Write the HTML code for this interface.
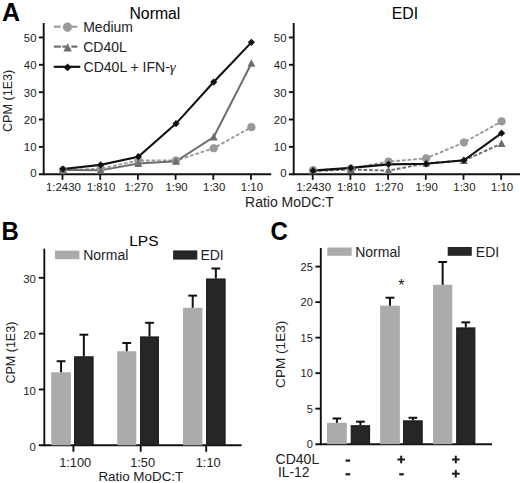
<!DOCTYPE html>
<html><head><meta charset="utf-8"><style>
html,body{margin:0;padding:0;background:#fff;}
svg{display:block;font-family:"Liberation Sans", sans-serif;}
</style></head><body>
<svg width="520" height="483" viewBox="0 0 520 483">
<rect width="520" height="483" fill="#fff"/>
<line x1="43.70" y1="23.00" x2="43.70" y2="175.15" stroke="#111" stroke-width="1.9" />
<line x1="38.90" y1="174.20" x2="271.20" y2="174.20" stroke="#111" stroke-width="1.9" />
<line x1="38.90" y1="146.85" x2="43.70" y2="146.85" stroke="#111" stroke-width="1.9" />
<line x1="38.90" y1="119.50" x2="43.70" y2="119.50" stroke="#111" stroke-width="1.9" />
<line x1="38.90" y1="92.15" x2="43.70" y2="92.15" stroke="#111" stroke-width="1.9" />
<line x1="38.90" y1="64.80" x2="43.70" y2="64.80" stroke="#111" stroke-width="1.9" />
<line x1="38.90" y1="37.45" x2="43.70" y2="37.45" stroke="#111" stroke-width="1.9" />
<text x="36.50" y="176.80" font-size="11.4" text-anchor="end" font-weight="normal" fill="#222" >0</text>
<text x="36.50" y="151.45" font-size="11.4" text-anchor="end" font-weight="normal" fill="#222" >10</text>
<text x="36.50" y="124.10" font-size="11.4" text-anchor="end" font-weight="normal" fill="#222" >20</text>
<text x="36.50" y="96.75" font-size="11.4" text-anchor="end" font-weight="normal" fill="#222" >30</text>
<text x="36.50" y="69.40" font-size="11.4" text-anchor="end" font-weight="normal" fill="#222" >40</text>
<text x="36.50" y="42.05" font-size="11.4" text-anchor="end" font-weight="normal" fill="#222" >50</text>
<line x1="62.50" y1="174.20" x2="62.50" y2="179.80" stroke="#111" stroke-width="1.8" />
<text x="63.40" y="190.50" font-size="11.4" text-anchor="middle" font-weight="normal" fill="#222" >1:2430</text>
<line x1="100.20" y1="174.20" x2="100.20" y2="179.80" stroke="#111" stroke-width="1.8" />
<text x="101.10" y="190.50" font-size="11.4" text-anchor="middle" font-weight="normal" fill="#222" >1:810</text>
<line x1="137.90" y1="174.20" x2="137.90" y2="179.80" stroke="#111" stroke-width="1.8" />
<text x="138.80" y="190.50" font-size="11.4" text-anchor="middle" font-weight="normal" fill="#222" >1:270</text>
<line x1="175.60" y1="174.20" x2="175.60" y2="179.80" stroke="#111" stroke-width="1.8" />
<text x="176.50" y="190.50" font-size="11.4" text-anchor="middle" font-weight="normal" fill="#222" >1:90</text>
<line x1="213.30" y1="174.20" x2="213.30" y2="179.80" stroke="#111" stroke-width="1.8" />
<text x="214.20" y="190.50" font-size="11.4" text-anchor="middle" font-weight="normal" fill="#222" >1:30</text>
<line x1="251.00" y1="174.20" x2="251.00" y2="179.80" stroke="#111" stroke-width="1.8" />
<text x="251.90" y="190.50" font-size="11.4" text-anchor="middle" font-weight="normal" fill="#222" >1:10</text>
<text x="154.90" y="18.60" font-size="15.8" text-anchor="middle" font-weight="normal" fill="#000" >Normal</text>
<polyline points="62.90,170.10 100.60,168.73 138.30,160.52 176.00,160.52 213.70,148.22 251.40,127.16" fill="none" stroke="#999999" stroke-width="1.9" stroke-dasharray="3.7,1.9"/>
<polyline points="62.90,170.10 100.60,170.37 138.30,163.53 176.00,161.35 213.70,137.00 251.40,63.43" fill="none" stroke="#6e6e6e" stroke-width="2" />
<polyline points="62.90,169.00 100.60,164.90 138.30,156.70 176.00,123.60 213.70,82.03 251.40,42.37" fill="none" stroke="#111" stroke-width="2.1"/>
<circle cx="62.90" cy="170.10" r="3.8" fill="#999999" stroke="#8e8e8e" stroke-width="0.6"/>
<circle cx="100.60" cy="168.73" r="3.8" fill="#999999" stroke="#8e8e8e" stroke-width="0.6"/>
<circle cx="138.30" cy="160.52" r="3.8" fill="#999999" stroke="#8e8e8e" stroke-width="0.6"/>
<circle cx="176.00" cy="160.52" r="3.8" fill="#999999" stroke="#8e8e8e" stroke-width="0.6"/>
<circle cx="213.70" cy="148.22" r="3.8" fill="#999999" stroke="#8e8e8e" stroke-width="0.6"/>
<circle cx="251.40" cy="127.16" r="3.8" fill="#999999" stroke="#8e8e8e" stroke-width="0.6"/>
<polygon points="62.90,165.92 66.90,173.52 58.90,173.52" fill="#6e6e6e"/>
<polygon points="100.60,166.19 104.60,173.79 96.60,173.79" fill="#6e6e6e"/>
<polygon points="138.30,159.35 142.30,166.95 134.30,166.95" fill="#6e6e6e"/>
<polygon points="176.00,157.17 180.00,164.77 172.00,164.77" fill="#6e6e6e"/>
<polygon points="213.70,132.82 217.70,140.42 209.70,140.42" fill="#6e6e6e"/>
<polygon points="251.40,59.25 255.40,66.85 247.40,66.85" fill="#6e6e6e"/>
<polygon points="62.90,165.40 66.50,169.00 62.90,172.60 59.30,169.00" fill="#111"/>
<polygon points="100.60,161.30 104.20,164.90 100.60,168.50 97.00,164.90" fill="#111"/>
<polygon points="138.30,153.10 141.90,156.70 138.30,160.30 134.70,156.70" fill="#111"/>
<polygon points="176.00,120.00 179.60,123.60 176.00,127.20 172.40,123.60" fill="#111"/>
<polygon points="213.70,78.43 217.30,82.03 213.70,85.63 210.10,82.03" fill="#111"/>
<polygon points="251.40,38.77 255.00,42.37 251.40,45.97 247.80,42.37" fill="#111"/>
<line x1="293.70" y1="23.00" x2="293.70" y2="175.15" stroke="#111" stroke-width="1.9" />
<line x1="288.90" y1="174.20" x2="521.20" y2="174.20" stroke="#111" stroke-width="1.9" />
<line x1="288.90" y1="146.85" x2="293.70" y2="146.85" stroke="#111" stroke-width="1.9" />
<line x1="288.90" y1="119.50" x2="293.70" y2="119.50" stroke="#111" stroke-width="1.9" />
<line x1="288.90" y1="92.15" x2="293.70" y2="92.15" stroke="#111" stroke-width="1.9" />
<line x1="288.90" y1="64.80" x2="293.70" y2="64.80" stroke="#111" stroke-width="1.9" />
<line x1="288.90" y1="37.45" x2="293.70" y2="37.45" stroke="#111" stroke-width="1.9" />
<text x="286.50" y="176.80" font-size="11.4" text-anchor="end" font-weight="normal" fill="#222" >0</text>
<text x="286.50" y="151.45" font-size="11.4" text-anchor="end" font-weight="normal" fill="#222" >10</text>
<text x="286.50" y="124.10" font-size="11.4" text-anchor="end" font-weight="normal" fill="#222" >20</text>
<text x="286.50" y="96.75" font-size="11.4" text-anchor="end" font-weight="normal" fill="#222" >30</text>
<text x="286.50" y="69.40" font-size="11.4" text-anchor="end" font-weight="normal" fill="#222" >40</text>
<text x="286.50" y="42.05" font-size="11.4" text-anchor="end" font-weight="normal" fill="#222" >50</text>
<line x1="312.70" y1="174.20" x2="312.70" y2="179.80" stroke="#111" stroke-width="1.8" />
<text x="313.60" y="190.50" font-size="11.4" text-anchor="middle" font-weight="normal" fill="#222" >1:2430</text>
<line x1="350.40" y1="174.20" x2="350.40" y2="179.80" stroke="#111" stroke-width="1.8" />
<text x="351.30" y="190.50" font-size="11.4" text-anchor="middle" font-weight="normal" fill="#222" >1:810</text>
<line x1="388.10" y1="174.20" x2="388.10" y2="179.80" stroke="#111" stroke-width="1.8" />
<text x="389.00" y="190.50" font-size="11.4" text-anchor="middle" font-weight="normal" fill="#222" >1:270</text>
<line x1="425.80" y1="174.20" x2="425.80" y2="179.80" stroke="#111" stroke-width="1.8" />
<text x="426.70" y="190.50" font-size="11.4" text-anchor="middle" font-weight="normal" fill="#222" >1:90</text>
<line x1="463.50" y1="174.20" x2="463.50" y2="179.80" stroke="#111" stroke-width="1.8" />
<text x="464.40" y="190.50" font-size="11.4" text-anchor="middle" font-weight="normal" fill="#222" >1:30</text>
<line x1="501.20" y1="174.20" x2="501.20" y2="179.80" stroke="#111" stroke-width="1.8" />
<text x="502.10" y="190.50" font-size="11.4" text-anchor="middle" font-weight="normal" fill="#222" >1:10</text>
<text x="404.90" y="18.60" font-size="15.8" text-anchor="middle" font-weight="normal" fill="#000" >EDI</text>
<polyline points="313.10,170.10 350.80,168.46 388.50,161.62 426.20,158.34 463.90,142.47 501.60,121.41" fill="none" stroke="#999999" stroke-width="1.9" stroke-dasharray="3.7,1.9"/>
<polyline points="313.10,170.92 350.80,169.55 388.50,170.64 426.20,163.26 463.90,160.52 501.60,143.57" fill="none" stroke="#6e6e6e" stroke-width="2" stroke-dasharray="3.7,1.9"/>
<polyline points="313.10,170.64 350.80,167.91 388.50,164.35 426.20,163.81 463.90,160.25 501.60,133.17" fill="none" stroke="#111" stroke-width="2.1"/>
<circle cx="313.10" cy="170.10" r="3.8" fill="#999999" stroke="#8e8e8e" stroke-width="0.6"/>
<circle cx="350.80" cy="168.46" r="3.8" fill="#999999" stroke="#8e8e8e" stroke-width="0.6"/>
<circle cx="388.50" cy="161.62" r="3.8" fill="#999999" stroke="#8e8e8e" stroke-width="0.6"/>
<circle cx="426.20" cy="158.34" r="3.8" fill="#999999" stroke="#8e8e8e" stroke-width="0.6"/>
<circle cx="463.90" cy="142.47" r="3.8" fill="#999999" stroke="#8e8e8e" stroke-width="0.6"/>
<circle cx="501.60" cy="121.41" r="3.8" fill="#999999" stroke="#8e8e8e" stroke-width="0.6"/>
<polygon points="313.10,166.74 317.10,174.34 309.10,174.34" fill="#6e6e6e"/>
<polygon points="350.80,165.37 354.80,172.97 346.80,172.97" fill="#6e6e6e"/>
<polygon points="388.50,166.46 392.50,174.06 384.50,174.06" fill="#6e6e6e"/>
<polygon points="426.20,159.08 430.20,166.68 422.20,166.68" fill="#6e6e6e"/>
<polygon points="463.90,156.34 467.90,163.94 459.90,163.94" fill="#6e6e6e"/>
<polygon points="501.60,139.39 505.60,146.99 497.60,146.99" fill="#6e6e6e"/>
<polygon points="313.10,167.04 316.70,170.64 313.10,174.24 309.50,170.64" fill="#111"/>
<polygon points="350.80,164.31 354.40,167.91 350.80,171.51 347.20,167.91" fill="#111"/>
<polygon points="388.50,160.75 392.10,164.35 388.50,167.95 384.90,164.35" fill="#111"/>
<polygon points="426.20,160.21 429.80,163.81 426.20,167.41 422.60,163.81" fill="#111"/>
<polygon points="463.90,156.65 467.50,160.25 463.90,163.85 460.30,160.25" fill="#111"/>
<polygon points="501.60,129.57 505.20,133.17 501.60,136.77 498.00,133.17" fill="#111"/>
<text x="2.00" y="20.90" font-size="25" text-anchor="start" font-weight="bold" fill="#000" >A</text>
<text x="289.40" y="206.90" font-size="14" text-anchor="middle" font-weight="normal" fill="#222" >Ratio MoDC:T</text>
<text transform="translate(12.2,100.9) rotate(-90)" font-size="12.6" text-anchor="middle" fill="#222">CPM (1E3)</text>
<line x1="53.90" y1="26.70" x2="60.60" y2="26.70" stroke="#999999" stroke-width="2.1" />
<line x1="72.00" y1="26.70" x2="77.30" y2="26.70" stroke="#999999" stroke-width="2.1" />
<circle cx="67.50" cy="27.10" r="4.3" fill="#999999" stroke="#8e8e8e" stroke-width="0.6"/>
<line x1="53.90" y1="46.60" x2="60.90" y2="46.60" stroke="#6e6e6e" stroke-width="2.2" />
<line x1="62.40" y1="46.60" x2="66.00" y2="46.60" stroke="#6e6e6e" stroke-width="2.2" />
<line x1="71.40" y1="46.60" x2="77.30" y2="46.60" stroke="#6e6e6e" stroke-width="2.2" />
<polygon points="67.65,43.2 71.9,51.4 63.4,51.4" fill="#6e6e6e"/>
<line x1="53.70" y1="66.80" x2="80.30" y2="66.80" stroke="#111" stroke-width="2.2" />
<polygon points="67.60,63.50 71.50,67.40 67.60,71.30 63.70,67.40" fill="#111"/>
<text x="83.20" y="32.20" font-size="14" text-anchor="start" font-weight="normal" fill="#222" >Medium</text>
<text x="83.20" y="52.00" font-size="14" text-anchor="start" font-weight="normal" fill="#222" >CD40L</text>
<text x="83.60" y="72.10" font-size="14" text-anchor="start" font-weight="normal" fill="#222" >CD40L + IFN-<tspan font-family="Liberation Serif" font-style="italic" font-size="15">&#947;</tspan></text>
<line x1="44.30" y1="248.70" x2="44.30" y2="446.25" stroke="#111" stroke-width="1.9" />
<line x1="38.80" y1="445.30" x2="241.60" y2="445.30" stroke="#111" stroke-width="1.9" />
<line x1="38.80" y1="389.47" x2="44.30" y2="389.47" stroke="#111" stroke-width="1.9" />
<line x1="38.80" y1="333.64" x2="44.30" y2="333.64" stroke="#111" stroke-width="1.9" />
<line x1="38.80" y1="277.81" x2="44.30" y2="277.81" stroke="#111" stroke-width="1.9" />
<text x="35.90" y="450.60" font-size="11.4" text-anchor="end" font-weight="normal" fill="#222" >0</text>
<text x="35.90" y="394.77" font-size="11.4" text-anchor="end" font-weight="normal" fill="#222" >10</text>
<text x="35.90" y="338.94" font-size="11.4" text-anchor="end" font-weight="normal" fill="#222" >20</text>
<text x="35.90" y="283.11" font-size="11.4" text-anchor="end" font-weight="normal" fill="#222" >30</text>
<rect x="51.20" y="372.27" width="19.70" height="73.03" fill="#ababab" stroke="none" stroke-width="0"/>
<line x1="61.05" y1="372.27" x2="61.05" y2="361.22" stroke="#111" stroke-width="2" />
<line x1="56.65" y1="361.22" x2="65.45" y2="361.22" stroke="#111" stroke-width="2" />
<rect x="117.20" y="351.23" width="19.10" height="94.07" fill="#ababab" stroke="none" stroke-width="0"/>
<line x1="126.75" y1="351.23" x2="126.75" y2="343.02" stroke="#111" stroke-width="2" />
<line x1="122.35" y1="343.02" x2="131.15" y2="343.02" stroke="#111" stroke-width="2" />
<rect x="183.00" y="307.79" width="19.40" height="137.51" fill="#ababab" stroke="none" stroke-width="0"/>
<line x1="192.70" y1="307.79" x2="192.70" y2="295.62" stroke="#111" stroke-width="2" />
<line x1="188.30" y1="295.62" x2="197.10" y2="295.62" stroke="#111" stroke-width="2" />
<rect x="74.60" y="356.81" width="18.50" height="88.49" fill="#262626" stroke="#161616" stroke-width="1"/>
<line x1="83.85" y1="356.31" x2="83.85" y2="334.70" stroke="#111" stroke-width="2" />
<line x1="79.45" y1="334.70" x2="88.25" y2="334.70" stroke="#111" stroke-width="2" />
<rect x="140.60" y="336.93" width="17.80" height="108.37" fill="#262626" stroke="#161616" stroke-width="1"/>
<line x1="149.50" y1="336.43" x2="149.50" y2="322.81" stroke="#111" stroke-width="2" />
<line x1="145.10" y1="322.81" x2="153.90" y2="322.81" stroke="#111" stroke-width="2" />
<rect x="206.60" y="278.98" width="18.50" height="166.32" fill="#262626" stroke="#161616" stroke-width="1"/>
<line x1="215.85" y1="278.48" x2="215.85" y2="268.49" stroke="#111" stroke-width="2" />
<line x1="211.45" y1="268.49" x2="220.25" y2="268.49" stroke="#111" stroke-width="2" />
<line x1="73.40" y1="445.30" x2="73.40" y2="451.80" stroke="#111" stroke-width="1.9" />
<text x="75.20" y="467.20" font-size="12.8" text-anchor="middle" font-weight="normal" fill="#222" >1:100</text>
<line x1="140.70" y1="445.30" x2="140.70" y2="451.80" stroke="#111" stroke-width="1.9" />
<text x="142.60" y="467.20" font-size="12.8" text-anchor="middle" font-weight="normal" fill="#222" >1:50</text>
<line x1="206.20" y1="445.30" x2="206.20" y2="451.80" stroke="#111" stroke-width="1.9" />
<text x="208.20" y="467.20" font-size="12.8" text-anchor="middle" font-weight="normal" fill="#222" >1:10</text>
<text x="140.80" y="480.80" font-size="13.4" text-anchor="middle" font-weight="normal" fill="#222" >Ratio MoDC:T</text>
<text transform="translate(14.6,352.6) rotate(-90)" font-size="12.5" text-anchor="middle" fill="#222">CPM (1E3)</text>
<text x="143.90" y="246.30" font-size="15.5" text-anchor="middle" font-weight="normal" fill="#000" >LPS</text>
<rect x="55.00" y="250.60" width="24.40" height="8.60" fill="#ababab" stroke="none" stroke-width="0"/>
<rect x="173.10" y="250.40" width="24.20" height="9.20" fill="#262626" stroke="none" stroke-width="0"/>
<text x="83.20" y="260.00" font-size="14" text-anchor="start" font-weight="normal" fill="#222" >Normal</text>
<text x="200.40" y="260.00" font-size="14" text-anchor="start" font-weight="normal" fill="#222" >EDI</text>
<text transform="translate(1.5,239.9) scale(1,1.06)" font-size="24" font-weight="bold" fill="#000">B</text>
<line x1="320.80" y1="248.00" x2="320.80" y2="445.15" stroke="#111" stroke-width="1.9" />
<line x1="315.40" y1="444.20" x2="492.00" y2="444.20" stroke="#111" stroke-width="1.9" />
<line x1="315.40" y1="408.68" x2="320.80" y2="408.68" stroke="#111" stroke-width="1.9" />
<line x1="315.40" y1="373.16" x2="320.80" y2="373.16" stroke="#111" stroke-width="1.9" />
<line x1="315.40" y1="337.64" x2="320.80" y2="337.64" stroke="#111" stroke-width="1.9" />
<line x1="315.40" y1="302.12" x2="320.80" y2="302.12" stroke="#111" stroke-width="1.9" />
<line x1="315.40" y1="266.60" x2="320.80" y2="266.60" stroke="#111" stroke-width="1.9" />
<text x="312.80" y="448.20" font-size="11" text-anchor="end" font-weight="normal" fill="#222" >0</text>
<text x="312.80" y="412.68" font-size="11" text-anchor="end" font-weight="normal" fill="#222" >5</text>
<text x="312.80" y="377.16" font-size="11" text-anchor="end" font-weight="normal" fill="#222" >10</text>
<text x="312.80" y="341.64" font-size="11" text-anchor="end" font-weight="normal" fill="#222" >15</text>
<text x="312.80" y="306.12" font-size="11" text-anchor="end" font-weight="normal" fill="#222" >20</text>
<text x="312.80" y="270.60" font-size="11" text-anchor="end" font-weight="normal" fill="#222" >25</text>
<rect x="327.00" y="422.82" width="19.80" height="21.38" fill="#ababab" stroke="none" stroke-width="0"/>
<line x1="336.90" y1="422.82" x2="336.90" y2="418.48" stroke="#111" stroke-width="2" />
<line x1="332.50" y1="418.48" x2="341.30" y2="418.48" stroke="#111" stroke-width="2" />
<rect x="380.10" y="305.67" width="19.80" height="138.53" fill="#ababab" stroke="none" stroke-width="0"/>
<line x1="390.00" y1="305.67" x2="390.00" y2="297.72" stroke="#111" stroke-width="2" />
<line x1="385.60" y1="297.72" x2="394.40" y2="297.72" stroke="#111" stroke-width="2" />
<rect x="433.00" y="284.79" width="19.30" height="159.41" fill="#ababab" stroke="none" stroke-width="0"/>
<line x1="442.65" y1="284.79" x2="442.65" y2="261.98" stroke="#111" stroke-width="2" />
<line x1="438.25" y1="261.98" x2="447.05" y2="261.98" stroke="#111" stroke-width="2" />
<rect x="351.20" y="425.73" width="18.40" height="18.47" fill="#262626" stroke="#161616" stroke-width="1"/>
<line x1="360.40" y1="425.23" x2="360.40" y2="421.68" stroke="#111" stroke-width="2" />
<line x1="356.00" y1="421.68" x2="364.80" y2="421.68" stroke="#111" stroke-width="2" />
<rect x="403.60" y="420.83" width="18.60" height="23.37" fill="#262626" stroke="#161616" stroke-width="1"/>
<line x1="412.90" y1="420.33" x2="412.90" y2="417.77" stroke="#111" stroke-width="2" />
<line x1="408.50" y1="417.77" x2="417.30" y2="417.77" stroke="#111" stroke-width="2" />
<rect x="456.70" y="327.91" width="18.20" height="116.29" fill="#262626" stroke="#161616" stroke-width="1"/>
<line x1="465.80" y1="327.41" x2="465.80" y2="322.37" stroke="#111" stroke-width="2" />
<line x1="461.40" y1="322.37" x2="470.20" y2="322.37" stroke="#111" stroke-width="2" />
<rect x="327.30" y="247.50" width="24.40" height="8.30" fill="#ababab" stroke="none" stroke-width="0"/>
<rect x="447.70" y="247.00" width="24.10" height="8.80" fill="#262626" stroke="none" stroke-width="0"/>
<text x="355.20" y="257.30" font-size="14" text-anchor="start" font-weight="normal" fill="#222" >Normal</text>
<text x="475.80" y="257.30" font-size="14" text-anchor="start" font-weight="normal" fill="#222" >EDI</text>
<text transform="translate(270.5,239.9) scale(1,1.06)" font-size="24" font-weight="bold" fill="#000">C</text>
<text transform="translate(285.1,354.3) rotate(-90)" font-size="13.6" text-anchor="middle" fill="#222">CPM (1E3)</text>
<text x="401.40" y="291.00" font-size="16" text-anchor="middle" font-weight="normal" fill="#222" >*</text>
<text x="275.60" y="463.60" font-size="14" text-anchor="start" font-weight="normal" fill="#222" >CD40L</text>
<text x="278.00" y="477.20" font-size="13.8" text-anchor="start" font-weight="normal" fill="#222" >IL-12</text>
<line x1="345.50" y1="460.60" x2="350.10" y2="460.60" stroke="#1a1a1a" stroke-width="2.2" />
<line x1="397.40" y1="459.50" x2="405.00" y2="459.50" stroke="#1a1a1a" stroke-width="2.0" />
<line x1="401.20" y1="455.70" x2="401.20" y2="463.30" stroke="#1a1a1a" stroke-width="2.0" />
<line x1="452.00" y1="459.50" x2="459.60" y2="459.50" stroke="#1a1a1a" stroke-width="2.0" />
<line x1="455.80" y1="455.70" x2="455.80" y2="463.30" stroke="#1a1a1a" stroke-width="2.0" />
<line x1="345.50" y1="474.30" x2="350.10" y2="474.30" stroke="#1a1a1a" stroke-width="2.2" />
<line x1="399.20" y1="474.30" x2="403.80" y2="474.30" stroke="#1a1a1a" stroke-width="2.2" />
<line x1="452.00" y1="473.70" x2="459.60" y2="473.70" stroke="#1a1a1a" stroke-width="2.0" />
<line x1="455.80" y1="469.90" x2="455.80" y2="477.50" stroke="#1a1a1a" stroke-width="2.0" />
</svg>
</body></html>
